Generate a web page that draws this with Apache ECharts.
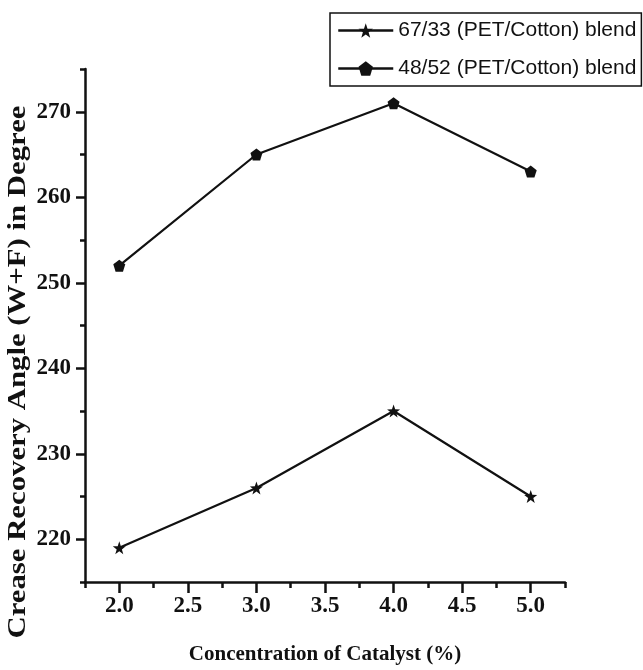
<!DOCTYPE html>
<html>
<head>
<meta charset="utf-8">
<script src="https://cdn.jsdelivr.net/npm/echarts@6/dist/echarts.min.js"></script>
<style>
html,body{margin:0;padding:0;background:#fff;}
#chart{width:643px;height:670px;}
</style>
</head>
<body>
<div id="chart"></div>
<script>
var concentration = [2.0, 3.0, 4.0, 5.0];
var blend6733 = [219, 226, 235, 225];
var blend4852 = [252, 265, 271, 263];
var seriesNames = ['67/33 (PET/Cotton) blend', '48/52 (PET/Cotton) blend'];
var xMajorTicks = [2.0, 2.5, 3.0, 3.5, 4.0, 4.5, 5.0];
var xMinorTicks = [1.75, 2.25, 2.75, 3.25, 3.75, 4.25, 4.75, 5.25];
var yMajorTicks = [220, 230, 240, 250, 260, 270];
var yMinorTicks = [215, 225, 235, 245, 255, 265, 275];
var xTitle = 'Concentration of Catalyst (%)';
var yTitle = 'Crease Recovery Angle (W+F) in Degree';

var STAR = 'path://M0,-1 L0.235,-0.324 L0.951,-0.309 L0.380,0.124 L0.588,0.809 L0,0.4 L-0.588,0.809 L-0.380,0.124 L-0.951,-0.309 L-0.235,-0.324 Z';
var PENTA = 'path://M0,-1 L0.951,-0.309 L0.588,0.809 L-0.588,0.809 L-0.951,-0.309 Z';
var INK = '#111';
var serifFont = "'Liberation Serif', 'DejaVu Serif', serif";
var sansFont = "'Liberation Sans', Arial, sans-serif";

function pairs(xs, ys) { return xs.map(function (x, i) { return [x, ys[i]]; }); }

var chart = echarts.init(document.getElementById('chart'), null, {renderer: 'canvas'});
chart.setOption({
  animation: false,
  backgroundColor: '#fff',
  grid: {left: 85, right: 78, top: 69, bottom: 85, containLabel: false},
  legend: {
    left: 330, top: 13,
    orient: 'vertical',
    data: seriesNames,
    itemWidth: 55, itemHeight: 18, itemGap: 17,
    padding: [7, 5, 7, 7],
    borderColor: INK, borderWidth: 1.5,
    lineStyle: {width: 2.5},
    textStyle: {fontFamily: sansFont, fontSize: 21, color: INK}
  },
  xAxis: [{
    type: 'value', min: 1.75, max: 5.25, position: 'bottom',
    splitLine: {show: false},
    axisLine: {lineStyle: {color: INK, width: 2.5}},
    axisTick: {customValues: xMajorTicks, length: 11, lineStyle: {color: INK, width: 2.5}},
    axisLabel: {customValues: xMajorTicks, formatter: function (v) { return v.toFixed(1); },
      fontFamily: serifFont, fontWeight: 'bold', fontSize: 23, color: INK, margin: 13},
    name: xTitle, nameLocation: 'middle', nameGap: 62,
    nameTextStyle: {fontFamily: serifFont, fontWeight: 'bold', fontSize: 21, color: INK}
  }, {
    type: 'value', min: 1.75, max: 5.25, position: 'bottom',
    splitLine: {show: false},
    axisLine: {show: false},
    axisTick: {customValues: xMinorTicks, length: 6, lineStyle: {color: INK, width: 2.5}},
    axisLabel: {show: false}
  }],
  yAxis: [{
    type: 'value', min: 215, max: 275, position: 'left',
    splitLine: {show: false},
    axisLine: {lineStyle: {color: INK, width: 2.5}},
    axisTick: {customValues: yMajorTicks, length: 9, lineStyle: {color: INK, width: 2.5}},
    axisLabel: {customValues: yMajorTicks, fontFamily: serifFont, fontWeight: 'bold', fontSize: 23, color: INK, margin: 14}
  }, {
    type: 'value', min: 215, max: 275, position: 'left',
    splitLine: {show: false},
    axisLine: {show: false},
    axisTick: {customValues: yMinorTicks, length: 5, lineStyle: {color: INK, width: 2.5}},
    axisLabel: {show: false}
  }],
  graphic: [{
    type: 'text',
    x: 19, y: 372,
    rotation: Math.PI / 2,
    scaleX: 1.23,
    style: {text: yTitle, font: 'bold 25px ' + serifFont, fill: INK, align: 'center', verticalAlign: 'middle'}
  }],
  series: [{
    name: seriesNames[0], type: 'line',
    data: pairs(concentration, blend6733),
    symbol: STAR, symbolSize: 13,
    lineStyle: {color: INK, width: 2.2}, itemStyle: {color: INK}
  }, {
    name: seriesNames[1], type: 'line',
    data: pairs(concentration, blend4852),
    symbol: PENTA, symbolSize: 12,
    lineStyle: {color: INK, width: 2.2}, itemStyle: {color: INK}
  }]
});
</script>
</body>
</html>
